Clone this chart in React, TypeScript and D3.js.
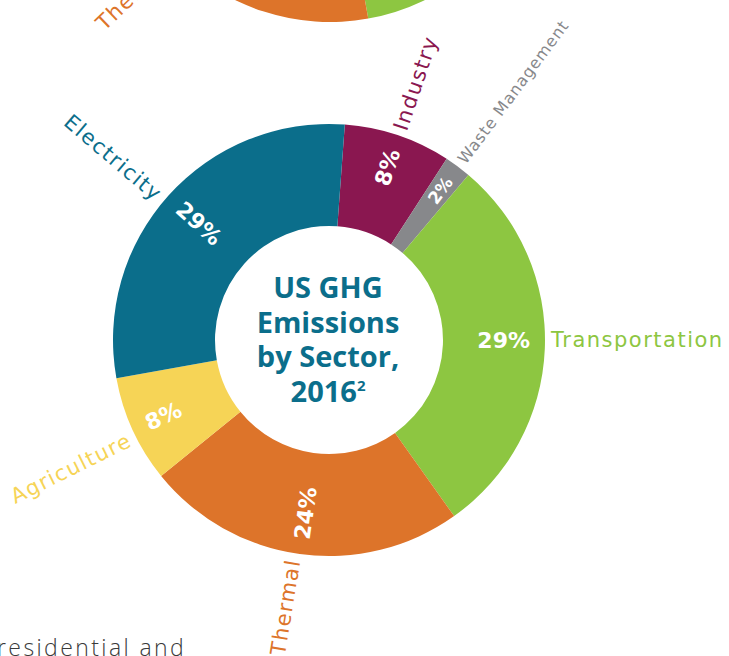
import React, { useEffect, useRef } from 'react';
import * as d3 from 'd3';

// sector order, clockwise from the top
const sectors = ['Industry', 'Waste Management', 'Transportation', 'Thermal', 'Agriculture', 'Electricity'];
const usValues = [8, 2, 29, 24, 8, 29];
// second chart, only its lower edge shows at the top of the page
const topValues = [10, 2, 34, 31.4, 6, 16.6];
const topShown = ['Thermal'];
const sectorColors = ['#8a1750', '#87888b', '#8dc641', '#dd742a', '#f6d456', '#0b6e8b'];
const titleLines = ['US GHG', 'Emissions', 'by Sector,'];
const titleYear = '2016';
const footnote = '2';
const bodyText = 'residential and';

const W = 729;
const H = 656;

type Slice = { name: string; value: number; color: string };

const App = () => {
  const svgRef = useRef<SVGSVGElement>(null);

  useEffect(() => {
    const svg = d3.select(svgRef.current).attr('width', W).attr('height', H);
    svg.selectAll('*').remove();

    const outer = 216;
    const inner = 114;
    const start = (4.2 * Math.PI) / 180;
    const rad = Math.PI / 180;

    const pie = d3
      .pie<Slice>()
      .sort(null)
      .value((d) => d.value)
      .startAngle(start)
      .endAngle(start + 2 * Math.PI);

    const arc = d3.arc<d3.PieArcDatum<Slice>>().innerRadius(inner).outerRadius(outer);

    const polar = (a: number, r: number) => [r * Math.sin(a), -r * Math.cos(a)];
    const deg = (a: number) => a / rad;

    // small hand nudges (degrees) the designer gave some outside labels
    const nudge: Record<string, number> = { Thermal: 1.5, Agriculture: -1.8, Electricity: -1.8 };

    const midAngle = (d: d3.PieArcDatum<Slice>) => {
      let a = ((d.startAngle + d.endAngle) / 2) % (2 * Math.PI);
      // labels near 3 o'clock are kept level
      if (Math.abs(a - Math.PI / 2) < 5 * rad) a = Math.PI / 2;
      return a;
    };

    const drawDonut = (cx: number, cy: number, values: number[], shown: string[] | null, withPct: boolean) => {
      const slices: Slice[] = sectors.map((name, i) => ({ name, value: values[i], color: sectorColors[i] }));
      const arcs = pie(slices);
      const g = svg.append('g').attr('transform', `translate(${cx},${cy})`);

      g.selectAll('path.slice')
        .data(arcs)
        .join('path')
        .attr('class', 'slice')
        .attr('d', arc)
        .attr('fill', (d) => d.data.color);

      // outside labels, along the radius
      g.selectAll('text.label')
        .data(arcs.filter((d) => !shown || shown.includes(d.data.name)))
        .join('text')
        .attr('class', 'label')
        .each(function (d) {
          const a = midAngle(d) + (shown ? 0 : (nudge[d.data.name] || 0) * rad);
          const right = a < Math.PI;
          const [x, y] = polar(a, 222);
          const rot = right ? deg(a) - 90 : deg(a) + 90;
          const small = d.data.name === 'Waste Management';
          d3.select(this)
            .attr('transform', `translate(${x},${y}) rotate(${rot})`)
            .attr('text-anchor', right ? 'start' : 'end')
            .attr('dy', '0.35em')
            .attr('font-family', 'DejaVu Sans')
            .attr('font-size', small ? 16 : 21)
            .attr('letter-spacing', small ? 0.9 : 1.5)
            .attr('fill', d.data.color)
            .text(d.data.name);
        });

      if (withPct) {
        // percentages inside the ring
        g.selectAll('text.pct')
          .data(arcs)
          .join('text')
          .attr('class', 'pct')
          .each(function (d) {
            const a = midAngle(d);
            const right = a < Math.PI;
            const [x, y] = polar(a, 201);
            const rot = right ? deg(a) - 90 : deg(a) + 90;
            const small = d.data.value < 5;
            d3.select(this)
              .attr('transform', `translate(${x},${y}) rotate(${rot})`)
              .attr('text-anchor', right ? 'end' : 'start')
              .attr('dy', '0.36em')
              .attr('font-family', 'DejaVu Sans')
              .attr('font-weight', 700)
              .attr('font-size', small ? 17 : 22)
              .attr('fill', '#fff')
              .text(`${d.data.value}%`);
          });
      }

      return g;
    };

    drawDonut(330, -194, topValues, topShown, false);
    const main = drawDonut(329, 340, usValues, null, true);

    const title = main
      .append('text')
      .attr('text-anchor', 'middle')
      .attr('font-family', 'Open Sans')
      .attr('font-weight', 700)
      .attr('font-size', 29)
      .attr('fill', '#0b6e8b');
    titleLines.forEach((t, i) => {
      title.append('tspan').attr('x', -1).attr('y', -42 + i * 34.7).text(t);
    });
    title.append('tspan').attr('x', -1).attr('y', -42 + 3 * 34.7).text(titleYear);
    title.append('tspan').attr('font-size', 15).attr('dy', -11).text(footnote);

    svg
      .append('text')
      .attr('x', -3)
      .attr('y', 656)
      .attr('font-family', 'Open Sans')
      .attr('font-weight', 300)
      .attr('font-size', 23)
      .attr('letter-spacing', 2.4)
      .attr('fill', '#3a3a3a')
      .text(bodyText);
  }, []);

  return (
    <div style={{ position: 'absolute', left: 0, top: 0 }}>
      <svg ref={svgRef} style={{ display: 'block', background: '#fff' }}></svg>
    </div>
  );
};

export default App;
